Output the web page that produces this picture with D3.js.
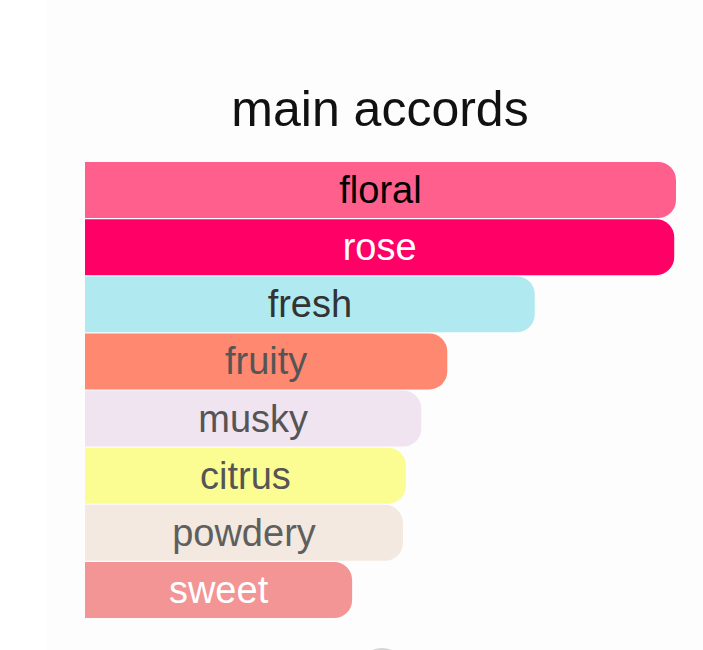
<!DOCTYPE html>
<html>
<head>
<meta charset="utf-8">
<script src="https://cdn.jsdelivr.net/npm/d3@7"></script>
<style>
  html, body { margin: 0; padding: 0; background: #ffffff; }
</style>
</head>
<body>
<svg id="chart"></svg>
<script>
// accords, top to bottom
const accords = ['floral', 'rose', 'fresh', 'fruity', 'musky', 'citrus', 'powdery', 'sweet'];
// relative strength (percent of strongest)
const strength = [100, 99.7, 76.1, 61.3, 56.9, 54.3, 53.8, 45.2];
const barColors = ['#ff5f8d', '#ff0066', '#b0eaf0', '#fe8870', '#efe4f0', '#fbfd93', '#f3e9e0', '#f39595'];
const labelColors = ['#000000', '#ffffff', '#333333', '#555555', '#555555', '#555555', '#5f5f5f', '#ffffff'];

const layout = { width: 703, height: 650, left: 85, right: 676, top: 162, bottom: 618, radius: 18 };

const svg = d3.select('#chart')
    .attr('width', layout.width)
    .attr('height', layout.height);

// faint panel behind the chart
svg.append('rect')
    .attr('x', 46).attr('y', 0)
    .attr('width', layout.width - 46).attr('height', layout.height)
    .attr('fill', '#fdfdfd');

svg.append('text')
    .attr('x', 380)
    .attr('y', 126)
    .attr('text-anchor', 'middle')
    .style('font-family', '"Liberation Sans", Arial, sans-serif')
    .style('font-size', '50px')
    .attr('fill', '#111')
    .text('main accords');

const data = accords.map((name, i) => ({ name, value: strength[i], fill: barColors[i], ink: labelColors[i] }));

const xScale = d3.scaleLinear()
    .domain([0, 100])
    .range([layout.left, layout.right]);

const yScale = d3.scaleBand()
    .domain(accords)
    .range([layout.top, layout.bottom])
    .paddingInner(0.02);

// bar with rounded right end only
function barPath(d) {
    const x0 = xScale(0), x1 = xScale(d.value);
    const y0 = yScale(d.name), h = yScale.bandwidth(), r = layout.radius;
    return `M${x0},${y0}H${x1 - r}A${r},${r} 0 0 1 ${x1},${y0 + r}` +
        `V${y0 + h - r}A${r},${r} 0 0 1 ${x1 - r},${y0 + h}H${x0}Z`;
}

svg.selectAll('.bar')
    .data(data)
    .join('path')
        .attr('class', 'bar')
        .attr('d', barPath)
        .attr('fill', d => d.fill);

svg.selectAll('.label')
    .data(data)
    .join('text')
        .attr('class', 'label')
        .attr('x', d => (xScale(0) + xScale(d.value)) / 2)
        .attr('y', d => yScale(d.name) + yScale.bandwidth() / 2 + 13)
        .attr('text-anchor', 'middle')
        .style('font-family', '"Liberation Sans", Arial, sans-serif')
        .style('font-size', '38px')
        .attr('fill', d => d.ink)
        .text(d => d.name);

// little grey knob peeking in at the bottom edge
svg.append('circle')
    .attr('cx', 382).attr('cy', 672)
    .attr('r', 24)
    .attr('fill', '#d4d4d4');
</script>
</body>
</html>
